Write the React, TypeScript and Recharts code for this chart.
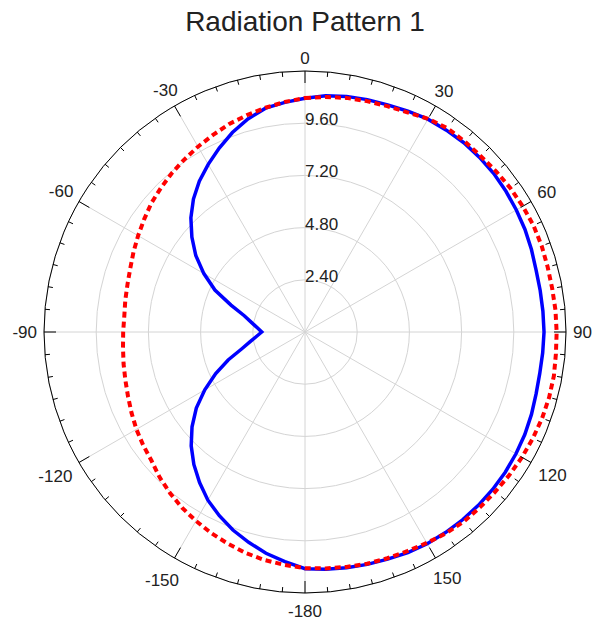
import React from 'react'
import {
  RadarChart,
  Radar,
  PolarGrid,
  PolarAngleAxis,
  PolarRadiusAxis,
} from 'recharts'

// angles every 5 deg, clockwise from the top
const angleDeg = [
  0, 5, 10, 15, 20, 25, 30, 35, 40, 45, 50, 55,
  60, 65, 70, 75, 80, 85, 90, 95, 100, 105, 110, 115,
  120, 125, 130, 135, 140, 145, 150, 155, 160, 165, 170, 175,
  180, 185, 190, 195, 200, 205, 210, 215, 220, 225, 230, 235,
  240, 245, 250, 255, 260, 265, 270, 275, 280, 285, 290, 295,
  300, 305, 310, 315, 320, 325, 330, 335, 340, 345, 350, 355,
]

const blueGain = [
  10.75, 10.9, 11.0, 11.06, 11.11, 11.2, 11.3, 11.33, 11.36, 11.35, 11.33, 11.28,
  11.22, 11.16, 11.08, 11.0, 10.98, 10.98, 10.99, 10.97, 10.96, 11.0, 11.08, 11.15,
  11.2, 11.24, 11.26, 11.27, 11.27, 11.26, 11.24, 11.19, 11.11, 11.06, 11.01, 10.95,
  10.88, 10.6, 10.33, 10.01, 9.69, 9.32, 8.93, 8.45, 7.95, 7.4, 6.78, 6.1,
  5.32, 4.53, 3.76, 3.02, 2.56, 2.23, 1.99, 2.2, 2.49, 2.89, 3.62, 4.57,
  5.37, 6.13, 6.79, 7.42, 7.98, 8.47, 8.9, 9.33, 9.76, 10.14, 10.45, 10.6,
]

const redGain = [
  10.76, 10.85, 10.93, 10.99, 11.05, 11.14, 11.32, 11.43, 11.43, 11.43, 11.48, 11.53,
  11.56, 11.59, 11.58, 11.55, 11.54, 11.56, 11.57, 11.58, 11.62, 11.62, 11.6, 11.56,
  11.52, 11.47, 11.42, 11.39, 11.37, 11.3, 11.2, 11.12, 11.07, 11.03, 10.97, 10.91,
  10.86, 10.75, 10.65, 10.52, 10.36, 10.2, 10.03, 9.86, 9.66, 9.45, 9.21, 9.08,
  8.95, 8.8, 8.66, 8.55, 8.47, 8.4, 8.36, 8.34, 8.39, 8.45, 8.55, 8.7,
  8.86, 9.03, 9.22, 9.37, 9.53, 9.68, 9.84, 10.0, 10.18, 10.32, 10.47, 10.62,
]

const radiusTicks = [0, 2.4, 4.8, 7.2, 9.6, 12]
const spokeAngles = [0, 30, 60, 90, 120, 150, 180, 210, 240, 270, 300, 330]

// body margin is removed, so the chart covers the whole window
const W = 592
const H = 625
const CX = 305
const CY = 332
const R = 261
const MAXR = 12
const FONT = '"Liberation Sans", Arial, sans-serif'
const LABEL_SIZE = 17

const data = angleDeg.map((a, i) => ({ angle: a, blue: blueGain[i], red: redGain[i] }))

function AngleTick(props: any) {
  const v = Number(props.payload?.value)
  const rad = (v * Math.PI) / 180
  const s = Math.sin(rad)
  const c = Math.cos(rad)
  const major = v % 30 === 0
  const len = major ? 12 : 5
  const x1 = CX + R * s
  const y1 = CY - R * c
  const x2 = CX + (R - len) * s
  const y2 = CY - (R - len) * c
  let label = null
  if (major) {
    const txt = String(v >= 180 ? v - 360 : v)
    const digits = txt.replace('-', '').length
    const w = LABEL_SIZE * (0.556 * digits + (txt.startsWith('-') ? 0.333 : 0))
    const extra = c < 0 ? 5 * Math.abs(c) : 0
    const lr = R + 7 + (w / 2) * Math.abs(s) + 6 * Math.abs(c) + extra
    const lx = CX + lr * s
    const ly = CY - lr * c
    label = (
      <text
        x={lx}
        y={ly + 6}
        textAnchor="middle"
        fontSize={LABEL_SIZE}
        fontFamily={FONT}
        fill="#222"
      >
        {txt}
      </text>
    )
  }
  return (
    <g>
      <line x1={x1} y1={y1} x2={x2} y2={y2} stroke="#000" strokeWidth={1} />
      {label}
    </g>
  )
}

function RadiusTick(props: any) {
  const v = Number(props.payload?.value)
  if (v === 0 || v === MAXR) return <g />
  const y = CY - (v / MAXR) * R
  return (
    <text x={CX} y={y + 2} textAnchor="start" fontSize={LABEL_SIZE} fontFamily={FONT} fill="#222">
      {v.toFixed(2)}
    </text>
  )
}

export default function App() {
  return (
    <div style={{ position: 'relative', width: W, height: H }}>
      <style>{'body { margin: 0; overflow: hidden; }'}</style>
      <div
        style={{
          position: 'absolute',
          top: 8,
          left: 0,
          width: 2 * CX,
          textAlign: 'center',
          fontFamily: FONT,
          fontSize: 28,
          lineHeight: '28px',
          color: '#222',
        }}
      >
        Radiation Pattern 1
      </div>
      <RadarChart
        width={W}
        height={H}
        data={data}
        cx={CX}
        cy={CY}
        outerRadius={R}
        startAngle={90}
        endAngle={-270}
        margin={{ top: 0, right: 0, bottom: 0, left: 0 }}
      >
        <PolarGrid
          gridType="circle"
          stroke="#d4d4d4"
          polarAngles={spokeAngles}
          polarRadius={radiusTicks.slice(1).map((t) => (t / MAXR) * R)}
        />
        <PolarAngleAxis
          dataKey="angle"
          axisLineType="circle"
          axisLine={{ stroke: '#000', strokeWidth: 1 }}
          stroke="#000"
          tickLine={false}
          tick={AngleTick}
        />
        <PolarRadiusAxis
          angle={90}
          type="number"
          domain={[0, MAXR]}
          ticks={radiusTicks as any}
          axisLine={false}
          tickLine={false}
          tick={RadiusTick}
        />
        <Radar
          dataKey="blue"
          stroke="#0000ff"
          strokeWidth={3.5}
          fill="none"
          fillOpacity={0}
          dot={false}
          isAnimationActive={false}
        />
        <Radar
          dataKey="red"
          stroke="#ff0000"
          strokeWidth={4}
          strokeDasharray="6 4"
          fill="none"
          fillOpacity={0}
          dot={false}
          isAnimationActive={false}
        />
      </RadarChart>
    </div>
  )
}
